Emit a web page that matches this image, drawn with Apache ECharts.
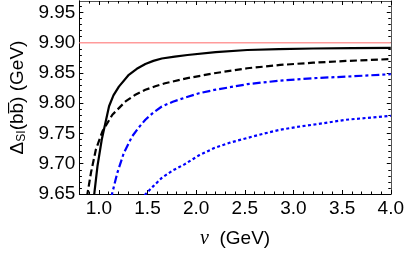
<!DOCTYPE html>
<html>
<head>
<meta charset="utf-8">
<script src="https://cdn.jsdelivr.net/npm/echarts@6/dist/echarts.min.js"></script>
<style>html,body{margin:0;padding:0;background:#fff}#c{width:407px;height:254px}</style>
</head>
<body>
<div id="c"></div>
<script>
// ---- data ----
var nuSolid = [0.935, 0.986, 1.030, 1.105, 1.15, 1.206, 1.308, 1.39, 1.478, 1.56, 1.647, 1.78, 1.911, 2.2, 2.525, 2.85, 3.202, 3.6, 4.0];
var dSolid  = [9.625, 9.696, 9.740, 9.795, 9.813, 9.8275, 9.847, 9.857, 9.865, 9.870, 9.874, 9.877, 9.8797, 9.8845, 9.888, 9.8895, 9.8905, 9.891, 9.8915];
var nuDashed = [0.86, 0.919, 0.969, 1.037, 1.139, 1.274, 1.37, 1.478, 1.58, 1.681, 1.911, 2.186, 2.525, 2.863, 3.202, 3.54, 4.0];
var dDashed  = [9.628, 9.685, 9.7233, 9.7535, 9.781, 9.803, 9.8135, 9.8222, 9.828, 9.833, 9.8415, 9.8496, 9.8578, 9.8633, 9.867, 9.8699, 9.873];
var nuDashDot = [1.12, 1.19, 1.257, 1.342, 1.41, 1.478, 1.56, 1.647, 1.76, 1.88, 2.03, 2.186, 2.525, 2.863, 3.202, 3.54, 4.0];
var dDashDot  = [9.640, 9.685, 9.718, 9.7452, 9.760, 9.7727, 9.7845, 9.7946, 9.8025, 9.809, 9.8165, 9.822, 9.8315, 9.8375, 9.8414, 9.844, 9.848];
var nuDotted = [1.47, 1.56, 1.647, 1.76, 1.88, 2.03, 2.186, 2.35, 2.525, 2.7, 2.863, 3.03, 3.202, 3.54, 4.0];
var dDotted  = [9.648, 9.663, 9.6767, 9.689, 9.699, 9.714, 9.726, 9.735, 9.7426, 9.750, 9.7562, 9.7607, 9.7645, 9.7727, 9.7793];
var nuRef = [0.8, 4.0];
var dRef  = [9.90, 9.90];
var xMajorTicks = [1.0, 1.5, 2.0, 2.5, 3.0, 3.5, 4.0];
var xMinorTicks = [0.8, 0.9, 1.1, 1.2, 1.3, 1.4, 1.6, 1.7, 1.8, 1.9, 2.1, 2.2, 2.3, 2.4, 2.6, 2.7, 2.8, 2.9, 3.1, 3.2, 3.3, 3.4, 3.6, 3.7, 3.8, 3.9];
var yMajorTicks = [9.65, 9.70, 9.75, 9.80, 9.85, 9.90, 9.95];
var yMinorTicks = [9.66, 9.67, 9.68, 9.69, 9.71, 9.72, 9.73, 9.74, 9.76, 9.77, 9.78, 9.79, 9.81, 9.82, 9.83, 9.84, 9.86, 9.87, 9.88, 9.89, 9.91, 9.92, 9.93, 9.94, 9.96];

function zip(a, b) { return a.map(function (v, i) { return [v, b[i]]; }); }

var X_MIN = 0.8, X_MAX = 4.0, Y_MIN = 9.65, Y_MAX = 9.969;
var FONT = 'Liberation Sans';

function xAx(pos, ticks, len, labels, lineColor) {
  return {
    type: 'value', position: pos, min: X_MIN, max: X_MAX,
    axisLine: { show: true, onZero: false, lineStyle: { color: lineColor, width: 1 } },
    axisTick: { show: true, inside: true, length: len, customValues: ticks, lineStyle: { color: '#000', width: 1 } },
    axisLabel: labels ? { show: true, customValues: ticks, margin: 5, color: '#000', fontSize: 19, fontFamily: FONT,
      formatter: function (v) { return v.toFixed(1); } } : { show: false },
    splitLine: { show: false }
  };
}
function yAx(pos, ticks, len, labels, lineColor) {
  return {
    type: 'value', position: pos, min: Y_MIN, max: Y_MAX,
    axisLine: { show: true, onZero: false, lineStyle: { color: lineColor, width: 1 } },
    axisTick: { show: true, inside: true, length: len, customValues: ticks, lineStyle: { color: '#000', width: 1 } },
    axisLabel: labels ? { show: true, customValues: ticks, margin: 4, color: '#000', fontSize: 19, fontFamily: FONT,
      formatter: function (v) { return v.toFixed(2); } } : { show: false },
    splitLine: { show: false }
  };
}

var xAxes = [
  xAx('bottom', xMajorTicks, 4, true, '#000'),
  xAx('bottom', xMinorTicks, 2.5, false, '#000'),
  xAx('top', xMajorTicks, 4, false, '#555'),
  xAx('top', xMinorTicks, 2.5, false, '#555')
];
xAxes[0].name = '{it|ν}  (GeV)';
xAxes[0].nameLocation = 'middle';
xAxes[0].nameGap = 35;
xAxes[0].nameTextStyle = { color: '#000', fontSize: 19, fontFamily: FONT,
  rich: { it: { fontStyle: 'italic', fontFamily: 'Liberation Serif', fontSize: 20, color: '#000' } } };

var yAxes = [
  yAx('left', yMajorTicks, 4, true, '#000'),
  yAx('left', yMinorTicks, 2.5, false, '#000'),
  yAx('right', yMajorTicks, 4, false, '#555'),
  yAx('right', yMinorTicks, 2.5, false, '#555')
];
yAxes[0].name = 'Δ{sub|SI}(b\u0062\u0305) (GeV)';
yAxes[0].nameLocation = 'middle';
yAxes[0].nameRotate = 90;
yAxes[0].nameGap = 50;
yAxes[0].nameTextStyle = { color: '#000', fontSize: 19, fontFamily: FONT,
  rich: { sub: { fontSize: 12, fontFamily: FONT, color: '#000', verticalAlign: 'bottom', padding: [8, 0, 0, 0] } } };

function ser(x, y, color, type, width) {
  return {
    type: 'line', data: zip(x, y), xAxisIndex: 0, yAxisIndex: 0,
    showSymbol: false, symbol: 'none', smooth: false, clip: true,
    lineStyle: { color: color, width: width, type: type, cap: 'butt', join: 'round' }, animation: false
  };
}

var chart = echarts.init(document.getElementById('c'), null, { renderer: 'canvas' });
chart.setOption({
  animation: false,
  grid: { left: 77, right: 15, top: 1, bottom: 59.5, containLabel: false },
  xAxis: xAxes,
  yAxis: yAxes,
  series: [
    ser(nuRef, dRef, '#ff9b9b', 'solid', 1.5),
    ser(nuSolid, dSolid, '#000', 'solid', 2.2),
    ser(nuDashed, dDashed, '#000', [7, 3.5], 2.2),
    ser(nuDashDot, dDashDot, '#0000ff', [8, 3, 3, 3], 2.2),
    ser(nuDotted, dDotted, '#0000ff', [3, 2.5], 2.2)
  ]
});
</script>
</body>
</html>
